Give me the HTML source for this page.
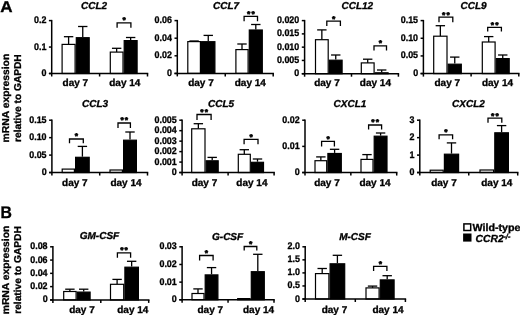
<!DOCTYPE html>
<html><head><meta charset="utf-8"><style>
html,body{margin:0;padding:0;background:#fff;}
svg{display:block;will-change:transform;}
text{font-family:"Liberation Sans", sans-serif;font-weight:bold;fill:#000;stroke:#000;stroke-width:0.32px;text-rendering:geometricPrecision;}
.tl{font-size:9.6px;text-anchor:end;}
.dl{font-size:10px;text-anchor:middle;}
.ti{font-size:10px;font-style:italic;text-anchor:middle;}
.st{font-size:8.5px;text-anchor:middle;letter-spacing:1.1px;stroke-width:0.55px;}
.pl{font-size:15.8px;text-rendering:geometricPrecision;}
.yl{font-size:10px;text-anchor:middle;}
.lg{font-size:10.3px;}
.sup{font-size:7.5px;}
</style></head><body>
<svg width="520" height="315" viewBox="0 0 520 315">
<rect width="520" height="315" fill="#fff"/>
<line x1="68.60" y1="44.40" x2="68.60" y2="36.70" stroke="#000" stroke-width="1.3"/>
<line x1="63.90" y1="36.70" x2="73.30" y2="36.70" stroke="#000" stroke-width="1.3"/>
<rect x="62.10" y="44.40" width="13.00" height="29.10" fill="#fff" stroke="#000" stroke-width="1.2"/>
<line x1="82.75" y1="37.10" x2="82.75" y2="26.50" stroke="#000" stroke-width="1.3"/>
<line x1="78.05" y1="26.50" x2="87.45" y2="26.50" stroke="#000" stroke-width="1.3"/>
<rect x="76.30" y="37.70" width="12.90" height="35.80" fill="#000" stroke="#000" stroke-width="1.2"/>
<line x1="116.65" y1="52.10" x2="116.65" y2="48.30" stroke="#000" stroke-width="1.3"/>
<line x1="111.95" y1="48.30" x2="121.35" y2="48.30" stroke="#000" stroke-width="1.3"/>
<rect x="110.30" y="52.10" width="12.70" height="21.40" fill="#fff" stroke="#000" stroke-width="1.2"/>
<line x1="130.65" y1="40.00" x2="130.65" y2="37.50" stroke="#000" stroke-width="1.3"/>
<line x1="125.95" y1="37.50" x2="135.35" y2="37.50" stroke="#000" stroke-width="1.3"/>
<rect x="124.20" y="40.60" width="12.90" height="32.90" fill="#000" stroke="#000" stroke-width="1.2"/>
<line x1="51.70" y1="19.90" x2="51.70" y2="76.50" stroke="#000" stroke-width="1.5"/>
<line x1="48.90" y1="73.50" x2="148.25" y2="73.50" stroke="#000" stroke-width="1.5"/>
<line x1="48.90" y1="20.60" x2="51.70" y2="20.60" stroke="#000" stroke-width="1.5"/>
<text transform="translate(46.40,23.10) scale(0.93,1)" class="tl">0.2</text>
<line x1="48.90" y1="47.05" x2="51.70" y2="47.05" stroke="#000" stroke-width="1.5"/>
<text transform="translate(46.40,49.55) scale(0.93,1)" class="tl">0.1</text>
<line x1="48.90" y1="73.50" x2="51.70" y2="73.50" stroke="#000" stroke-width="1.5"/>
<text transform="translate(46.40,76.00) scale(0.93,1)" class="tl">0</text>
<line x1="99.60" y1="73.50" x2="99.60" y2="76.50" stroke="#000" stroke-width="1.5"/>
<line x1="147.50" y1="73.50" x2="147.50" y2="76.50" stroke="#000" stroke-width="1.5"/>
<path d="M117.10 27.70V22.90H130.90V27.70" fill="none" stroke="#000" stroke-width="1.3"/>
<text x="124.60" y="23.30" class="st">*</text>
<text x="75.35" y="86.40" class="dl">day 7</text>
<text x="124.80" y="86.40" class="dl">day 14</text>
<text x="94.00" y="8.60" class="ti">CCL2</text>
<line x1="194.10" y1="41.60" x2="194.10" y2="41.00" stroke="#000" stroke-width="1.3"/>
<line x1="189.40" y1="41.00" x2="198.80" y2="41.00" stroke="#000" stroke-width="1.3"/>
<rect x="187.80" y="41.60" width="12.60" height="31.80" fill="#fff" stroke="#000" stroke-width="1.2"/>
<line x1="208.25" y1="41.10" x2="208.25" y2="35.40" stroke="#000" stroke-width="1.3"/>
<line x1="203.55" y1="35.40" x2="212.95" y2="35.40" stroke="#000" stroke-width="1.3"/>
<rect x="201.60" y="41.70" width="13.30" height="31.70" fill="#000" stroke="#000" stroke-width="1.2"/>
<line x1="242.00" y1="49.60" x2="242.00" y2="44.00" stroke="#000" stroke-width="1.3"/>
<line x1="237.30" y1="44.00" x2="246.70" y2="44.00" stroke="#000" stroke-width="1.3"/>
<rect x="235.90" y="49.60" width="12.20" height="23.80" fill="#fff" stroke="#000" stroke-width="1.2"/>
<line x1="255.80" y1="29.40" x2="255.80" y2="24.50" stroke="#000" stroke-width="1.3"/>
<line x1="251.10" y1="24.50" x2="260.50" y2="24.50" stroke="#000" stroke-width="1.3"/>
<rect x="249.30" y="30.00" width="13.00" height="43.40" fill="#000" stroke="#000" stroke-width="1.2"/>
<line x1="177.30" y1="19.90" x2="177.30" y2="76.40" stroke="#000" stroke-width="1.5"/>
<line x1="174.50" y1="73.40" x2="273.95" y2="73.40" stroke="#000" stroke-width="1.5"/>
<line x1="174.50" y1="20.60" x2="177.30" y2="20.60" stroke="#000" stroke-width="1.5"/>
<text transform="translate(172.00,23.10) scale(0.93,1)" class="tl">0.06</text>
<line x1="174.50" y1="38.20" x2="177.30" y2="38.20" stroke="#000" stroke-width="1.5"/>
<text transform="translate(172.00,40.70) scale(0.93,1)" class="tl">0.04</text>
<line x1="174.50" y1="55.80" x2="177.30" y2="55.80" stroke="#000" stroke-width="1.5"/>
<text transform="translate(172.00,58.30) scale(0.93,1)" class="tl">0.02</text>
<line x1="174.50" y1="73.40" x2="177.30" y2="73.40" stroke="#000" stroke-width="1.5"/>
<text transform="translate(172.00,75.90) scale(0.93,1)" class="tl">0</text>
<line x1="225.25" y1="73.40" x2="225.25" y2="76.40" stroke="#000" stroke-width="1.5"/>
<line x1="273.20" y1="73.40" x2="273.20" y2="76.40" stroke="#000" stroke-width="1.5"/>
<path d="M244.10 21.30V16.40H257.50V21.30" fill="none" stroke="#000" stroke-width="1.3"/>
<text x="251.40" y="16.80" class="st">**</text>
<text x="201.00" y="86.40" class="dl">day 7</text>
<text x="250.30" y="86.40" class="dl">day 14</text>
<text x="226.00" y="8.60" class="ti">CCL7</text>
<line x1="321.85" y1="39.70" x2="321.85" y2="29.90" stroke="#000" stroke-width="1.3"/>
<line x1="317.15" y1="29.90" x2="326.55" y2="29.90" stroke="#000" stroke-width="1.3"/>
<rect x="315.50" y="39.70" width="12.70" height="34.00" fill="#fff" stroke="#000" stroke-width="1.2"/>
<line x1="335.75" y1="59.60" x2="335.75" y2="55.00" stroke="#000" stroke-width="1.3"/>
<line x1="331.05" y1="55.00" x2="340.45" y2="55.00" stroke="#000" stroke-width="1.3"/>
<rect x="329.40" y="60.20" width="12.70" height="13.50" fill="#000" stroke="#000" stroke-width="1.2"/>
<line x1="367.70" y1="62.90" x2="367.70" y2="59.20" stroke="#000" stroke-width="1.3"/>
<line x1="363.00" y1="59.20" x2="372.40" y2="59.20" stroke="#000" stroke-width="1.3"/>
<rect x="361.30" y="62.90" width="12.80" height="10.80" fill="#fff" stroke="#000" stroke-width="1.2"/>
<line x1="381.70" y1="72.20" x2="381.70" y2="70.00" stroke="#000" stroke-width="1.3"/>
<line x1="377.00" y1="70.00" x2="386.40" y2="70.00" stroke="#000" stroke-width="1.3"/>
<rect x="375.30" y="72.80" width="12.80" height="0.90" fill="#000" stroke="#000" stroke-width="1.2"/>
<line x1="304.60" y1="19.90" x2="304.60" y2="76.70" stroke="#000" stroke-width="1.5"/>
<line x1="301.80" y1="73.70" x2="399.15" y2="73.70" stroke="#000" stroke-width="1.5"/>
<line x1="301.80" y1="20.60" x2="304.60" y2="20.60" stroke="#000" stroke-width="1.5"/>
<text transform="translate(299.30,23.10) scale(0.93,1)" class="tl">0.020</text>
<line x1="301.80" y1="33.88" x2="304.60" y2="33.88" stroke="#000" stroke-width="1.5"/>
<text transform="translate(299.30,36.38) scale(0.93,1)" class="tl">0.015</text>
<line x1="301.80" y1="47.15" x2="304.60" y2="47.15" stroke="#000" stroke-width="1.5"/>
<text transform="translate(299.30,49.65) scale(0.93,1)" class="tl">0.010</text>
<line x1="301.80" y1="60.43" x2="304.60" y2="60.43" stroke="#000" stroke-width="1.5"/>
<text transform="translate(299.30,62.93) scale(0.93,1)" class="tl">0.005</text>
<line x1="301.80" y1="73.70" x2="304.60" y2="73.70" stroke="#000" stroke-width="1.5"/>
<text transform="translate(299.30,76.20) scale(0.93,1)" class="tl">0</text>
<line x1="351.50" y1="73.70" x2="351.50" y2="76.70" stroke="#000" stroke-width="1.5"/>
<line x1="398.40" y1="73.70" x2="398.40" y2="76.70" stroke="#000" stroke-width="1.5"/>
<path d="M326.80 25.90V21.10H340.40V25.90" fill="none" stroke="#000" stroke-width="1.3"/>
<text x="334.20" y="21.50" class="st">*</text>
<path d="M374.00 50.60V45.90H386.50V50.60" fill="none" stroke="#000" stroke-width="1.3"/>
<text x="380.85" y="46.30" class="st">*</text>
<text x="327.00" y="86.40" class="dl">day 7</text>
<text x="375.40" y="86.40" class="dl">day 14</text>
<text x="357.30" y="8.60" class="ti">CCL12</text>
<line x1="440.35" y1="36.20" x2="440.35" y2="25.70" stroke="#000" stroke-width="1.3"/>
<line x1="435.65" y1="25.70" x2="445.05" y2="25.70" stroke="#000" stroke-width="1.3"/>
<rect x="433.70" y="36.20" width="13.30" height="37.40" fill="#fff" stroke="#000" stroke-width="1.2"/>
<line x1="454.75" y1="63.60" x2="454.75" y2="57.10" stroke="#000" stroke-width="1.3"/>
<line x1="450.05" y1="57.10" x2="459.45" y2="57.10" stroke="#000" stroke-width="1.3"/>
<rect x="448.20" y="64.20" width="13.10" height="9.40" fill="#000" stroke="#000" stroke-width="1.2"/>
<line x1="488.70" y1="42.00" x2="488.70" y2="36.60" stroke="#000" stroke-width="1.3"/>
<line x1="484.00" y1="36.60" x2="493.40" y2="36.60" stroke="#000" stroke-width="1.3"/>
<rect x="482.30" y="42.00" width="12.80" height="31.60" fill="#fff" stroke="#000" stroke-width="1.2"/>
<line x1="502.75" y1="58.00" x2="502.75" y2="55.00" stroke="#000" stroke-width="1.3"/>
<line x1="498.05" y1="55.00" x2="507.45" y2="55.00" stroke="#000" stroke-width="1.3"/>
<rect x="496.30" y="58.60" width="12.90" height="15.00" fill="#000" stroke="#000" stroke-width="1.2"/>
<line x1="423.40" y1="19.90" x2="423.40" y2="76.60" stroke="#000" stroke-width="1.5"/>
<line x1="420.60" y1="73.60" x2="519.55" y2="73.60" stroke="#000" stroke-width="1.5"/>
<line x1="420.60" y1="20.60" x2="423.40" y2="20.60" stroke="#000" stroke-width="1.5"/>
<text transform="translate(418.10,23.10) scale(0.93,1)" class="tl">0.15</text>
<line x1="420.60" y1="38.27" x2="423.40" y2="38.27" stroke="#000" stroke-width="1.5"/>
<text transform="translate(418.10,40.77) scale(0.93,1)" class="tl">0.10</text>
<line x1="420.60" y1="55.93" x2="423.40" y2="55.93" stroke="#000" stroke-width="1.5"/>
<text transform="translate(418.10,58.43) scale(0.93,1)" class="tl">0.05</text>
<line x1="420.60" y1="73.60" x2="423.40" y2="73.60" stroke="#000" stroke-width="1.5"/>
<text transform="translate(418.10,76.10) scale(0.93,1)" class="tl">0</text>
<line x1="471.10" y1="73.60" x2="471.10" y2="76.60" stroke="#000" stroke-width="1.5"/>
<line x1="518.80" y1="73.60" x2="518.80" y2="76.60" stroke="#000" stroke-width="1.5"/>
<path d="M439.00 22.30V17.10H452.80V22.30" fill="none" stroke="#000" stroke-width="1.3"/>
<text x="446.50" y="17.50" class="st">**</text>
<path d="M487.70 31.60V27.30H501.40V31.60" fill="none" stroke="#000" stroke-width="1.3"/>
<text x="495.15" y="27.70" class="st">**</text>
<text x="447.30" y="86.40" class="dl">day 7</text>
<text x="497.50" y="86.40" class="dl">day 14</text>
<text x="473.50" y="8.60" class="ti">CCL9</text>
<rect x="62.20" y="169.10" width="12.20" height="3.45" fill="#fff" stroke="#000" stroke-width="1.2"/>
<line x1="82.40" y1="156.70" x2="82.40" y2="146.40" stroke="#000" stroke-width="1.3"/>
<line x1="77.70" y1="146.40" x2="87.10" y2="146.40" stroke="#000" stroke-width="1.3"/>
<rect x="75.60" y="157.30" width="13.60" height="15.25" fill="#000" stroke="#000" stroke-width="1.2"/>
<rect x="110.00" y="170.00" width="12.40" height="2.55" fill="#fff" stroke="#000" stroke-width="1.2"/>
<line x1="130.00" y1="139.60" x2="130.00" y2="132.00" stroke="#000" stroke-width="1.3"/>
<line x1="125.30" y1="132.00" x2="134.70" y2="132.00" stroke="#000" stroke-width="1.3"/>
<rect x="123.60" y="140.20" width="12.80" height="32.35" fill="#000" stroke="#000" stroke-width="1.2"/>
<line x1="51.90" y1="119.50" x2="51.90" y2="175.55" stroke="#000" stroke-width="1.5"/>
<line x1="49.10" y1="172.55" x2="148.25" y2="172.55" stroke="#000" stroke-width="1.5"/>
<line x1="49.10" y1="120.20" x2="51.90" y2="120.20" stroke="#000" stroke-width="1.5"/>
<text transform="translate(46.60,122.70) scale(0.93,1)" class="tl">0.15</text>
<line x1="49.10" y1="137.65" x2="51.90" y2="137.65" stroke="#000" stroke-width="1.5"/>
<text transform="translate(46.60,140.15) scale(0.93,1)" class="tl">0.10</text>
<line x1="49.10" y1="155.10" x2="51.90" y2="155.10" stroke="#000" stroke-width="1.5"/>
<text transform="translate(46.60,157.60) scale(0.93,1)" class="tl">0.05</text>
<line x1="49.10" y1="172.55" x2="51.90" y2="172.55" stroke="#000" stroke-width="1.5"/>
<text transform="translate(46.60,175.05) scale(0.93,1)" class="tl">0</text>
<line x1="99.70" y1="172.55" x2="99.70" y2="175.55" stroke="#000" stroke-width="1.5"/>
<line x1="147.50" y1="172.55" x2="147.50" y2="175.55" stroke="#000" stroke-width="1.5"/>
<path d="M69.50 143.30V139.00H83.30V143.30" fill="none" stroke="#000" stroke-width="1.3"/>
<text x="77.00" y="139.40" class="st">*</text>
<path d="M118.00 128.00V123.00H130.40V128.00" fill="none" stroke="#000" stroke-width="1.3"/>
<text x="124.80" y="123.40" class="st">**</text>
<text x="74.90" y="186.00" class="dl">day 7</text>
<text x="126.00" y="186.00" class="dl">day 14</text>
<text x="95.00" y="106.80" class="ti">CCL3</text>
<line x1="198.35" y1="128.80" x2="198.35" y2="123.70" stroke="#000" stroke-width="1.3"/>
<line x1="193.65" y1="123.70" x2="203.05" y2="123.70" stroke="#000" stroke-width="1.3"/>
<rect x="191.70" y="128.80" width="13.30" height="43.75" fill="#fff" stroke="#000" stroke-width="1.2"/>
<line x1="212.20" y1="160.20" x2="212.20" y2="157.40" stroke="#000" stroke-width="1.3"/>
<line x1="207.50" y1="157.40" x2="216.90" y2="157.40" stroke="#000" stroke-width="1.3"/>
<rect x="206.20" y="160.80" width="12.00" height="11.75" fill="#000" stroke="#000" stroke-width="1.2"/>
<line x1="244.30" y1="154.30" x2="244.30" y2="149.70" stroke="#000" stroke-width="1.3"/>
<line x1="239.60" y1="149.70" x2="249.00" y2="149.70" stroke="#000" stroke-width="1.3"/>
<rect x="238.30" y="154.30" width="12.00" height="18.25" fill="#fff" stroke="#000" stroke-width="1.2"/>
<line x1="257.50" y1="161.70" x2="257.50" y2="159.00" stroke="#000" stroke-width="1.3"/>
<line x1="252.80" y1="159.00" x2="262.20" y2="159.00" stroke="#000" stroke-width="1.3"/>
<rect x="251.50" y="162.30" width="12.00" height="10.25" fill="#000" stroke="#000" stroke-width="1.2"/>
<line x1="182.10" y1="119.50" x2="182.10" y2="175.55" stroke="#000" stroke-width="1.5"/>
<line x1="179.30" y1="172.55" x2="274.85" y2="172.55" stroke="#000" stroke-width="1.5"/>
<line x1="179.30" y1="120.20" x2="182.10" y2="120.20" stroke="#000" stroke-width="1.5"/>
<text transform="translate(176.80,122.70) scale(0.93,1)" class="tl">0.005</text>
<line x1="179.30" y1="130.67" x2="182.10" y2="130.67" stroke="#000" stroke-width="1.5"/>
<text transform="translate(176.80,133.17) scale(0.93,1)" class="tl">0.004</text>
<line x1="179.30" y1="141.14" x2="182.10" y2="141.14" stroke="#000" stroke-width="1.5"/>
<text transform="translate(176.80,143.64) scale(0.93,1)" class="tl">0.003</text>
<line x1="179.30" y1="151.61" x2="182.10" y2="151.61" stroke="#000" stroke-width="1.5"/>
<text transform="translate(176.80,154.11) scale(0.93,1)" class="tl">0.002</text>
<line x1="179.30" y1="162.08" x2="182.10" y2="162.08" stroke="#000" stroke-width="1.5"/>
<text transform="translate(176.80,164.58) scale(0.93,1)" class="tl">0.001</text>
<line x1="179.30" y1="172.55" x2="182.10" y2="172.55" stroke="#000" stroke-width="1.5"/>
<text transform="translate(176.80,175.05) scale(0.93,1)" class="tl">0</text>
<line x1="228.10" y1="172.55" x2="228.10" y2="175.55" stroke="#000" stroke-width="1.5"/>
<line x1="274.10" y1="172.55" x2="274.10" y2="175.55" stroke="#000" stroke-width="1.5"/>
<path d="M197.00 119.90V114.50H211.10V119.90" fill="none" stroke="#000" stroke-width="1.3"/>
<text x="204.65" y="114.90" class="st">**</text>
<path d="M244.10 144.30V139.30H258.00V144.30" fill="none" stroke="#000" stroke-width="1.3"/>
<text x="251.65" y="139.70" class="st">*</text>
<text x="204.50" y="186.00" class="dl">day 7</text>
<text x="251.90" y="186.00" class="dl">day 14</text>
<text x="221.00" y="106.80" class="ti">CCL5</text>
<line x1="320.85" y1="160.70" x2="320.85" y2="156.90" stroke="#000" stroke-width="1.3"/>
<line x1="316.15" y1="156.90" x2="325.55" y2="156.90" stroke="#000" stroke-width="1.3"/>
<rect x="315.00" y="160.70" width="11.70" height="11.85" fill="#fff" stroke="#000" stroke-width="1.2"/>
<line x1="334.60" y1="152.90" x2="334.60" y2="149.30" stroke="#000" stroke-width="1.3"/>
<line x1="329.90" y1="149.30" x2="339.30" y2="149.30" stroke="#000" stroke-width="1.3"/>
<rect x="327.90" y="153.50" width="13.40" height="19.05" fill="#000" stroke="#000" stroke-width="1.2"/>
<line x1="367.00" y1="159.40" x2="367.00" y2="154.60" stroke="#000" stroke-width="1.3"/>
<line x1="362.30" y1="154.60" x2="371.70" y2="154.60" stroke="#000" stroke-width="1.3"/>
<rect x="361.00" y="159.40" width="12.00" height="13.15" fill="#fff" stroke="#000" stroke-width="1.2"/>
<line x1="380.60" y1="135.60" x2="380.60" y2="133.00" stroke="#000" stroke-width="1.3"/>
<line x1="375.90" y1="133.00" x2="385.30" y2="133.00" stroke="#000" stroke-width="1.3"/>
<rect x="374.20" y="136.20" width="12.80" height="36.35" fill="#000" stroke="#000" stroke-width="1.2"/>
<line x1="305.00" y1="119.50" x2="305.00" y2="175.55" stroke="#000" stroke-width="1.5"/>
<line x1="302.20" y1="172.55" x2="397.45" y2="172.55" stroke="#000" stroke-width="1.5"/>
<line x1="302.20" y1="120.20" x2="305.00" y2="120.20" stroke="#000" stroke-width="1.5"/>
<text transform="translate(299.70,122.70) scale(0.93,1)" class="tl">0.02</text>
<line x1="302.20" y1="146.38" x2="305.00" y2="146.38" stroke="#000" stroke-width="1.5"/>
<text transform="translate(299.70,148.88) scale(0.93,1)" class="tl">0.01</text>
<line x1="302.20" y1="172.55" x2="305.00" y2="172.55" stroke="#000" stroke-width="1.5"/>
<text transform="translate(299.70,175.05) scale(0.93,1)" class="tl">0</text>
<line x1="350.85" y1="172.55" x2="350.85" y2="175.55" stroke="#000" stroke-width="1.5"/>
<line x1="396.70" y1="172.55" x2="396.70" y2="175.55" stroke="#000" stroke-width="1.5"/>
<path d="M321.60 146.40V141.40H334.40V146.40" fill="none" stroke="#000" stroke-width="1.3"/>
<text x="328.60" y="141.80" class="st">*</text>
<path d="M368.60 129.60V125.00H381.60V129.60" fill="none" stroke="#000" stroke-width="1.3"/>
<text x="375.70" y="125.40" class="st">**</text>
<text x="327.00" y="186.00" class="dl">day 7</text>
<text x="375.00" y="186.00" class="dl">day 14</text>
<text x="350.00" y="106.80" class="ti">CXCL1</text>
<rect x="430.20" y="170.20" width="13.00" height="2.35" fill="#fff" stroke="#000" stroke-width="1.2"/>
<line x1="451.50" y1="153.60" x2="451.50" y2="142.90" stroke="#000" stroke-width="1.3"/>
<line x1="446.80" y1="142.90" x2="456.20" y2="142.90" stroke="#000" stroke-width="1.3"/>
<rect x="444.40" y="154.20" width="14.20" height="18.35" fill="#000" stroke="#000" stroke-width="1.2"/>
<rect x="480.00" y="170.00" width="13.60" height="2.55" fill="#fff" stroke="#000" stroke-width="1.2"/>
<line x1="501.60" y1="132.20" x2="501.60" y2="125.60" stroke="#000" stroke-width="1.3"/>
<line x1="496.90" y1="125.60" x2="506.30" y2="125.60" stroke="#000" stroke-width="1.3"/>
<rect x="494.80" y="132.80" width="13.60" height="39.75" fill="#000" stroke="#000" stroke-width="1.2"/>
<line x1="419.80" y1="119.50" x2="419.80" y2="175.55" stroke="#000" stroke-width="1.5"/>
<line x1="417.00" y1="172.55" x2="518.45" y2="172.55" stroke="#000" stroke-width="1.5"/>
<line x1="417.00" y1="120.20" x2="419.80" y2="120.20" stroke="#000" stroke-width="1.5"/>
<text transform="translate(414.50,122.70) scale(0.93,1)" class="tl">3</text>
<line x1="417.00" y1="137.65" x2="419.80" y2="137.65" stroke="#000" stroke-width="1.5"/>
<text transform="translate(414.50,140.15) scale(0.93,1)" class="tl">2</text>
<line x1="417.00" y1="155.10" x2="419.80" y2="155.10" stroke="#000" stroke-width="1.5"/>
<text transform="translate(414.50,157.60) scale(0.93,1)" class="tl">1</text>
<line x1="417.00" y1="172.55" x2="419.80" y2="172.55" stroke="#000" stroke-width="1.5"/>
<text transform="translate(414.50,175.05) scale(0.93,1)" class="tl">0</text>
<line x1="468.75" y1="172.55" x2="468.75" y2="175.55" stroke="#000" stroke-width="1.5"/>
<line x1="517.70" y1="172.55" x2="517.70" y2="175.55" stroke="#000" stroke-width="1.5"/>
<path d="M439.10 139.30V134.80H452.60V139.30" fill="none" stroke="#000" stroke-width="1.3"/>
<text x="446.45" y="135.20" class="st">*</text>
<path d="M488.00 122.80V118.20H501.80V122.80" fill="none" stroke="#000" stroke-width="1.3"/>
<text x="495.50" y="118.60" class="st">**</text>
<text x="444.00" y="186.00" class="dl">day 7</text>
<text x="496.80" y="186.00" class="dl">day 14</text>
<text x="468.50" y="106.80" class="ti">CXCL2</text>
<line x1="69.90" y1="291.50" x2="69.90" y2="289.20" stroke="#000" stroke-width="1.3"/>
<line x1="65.20" y1="289.20" x2="74.60" y2="289.20" stroke="#000" stroke-width="1.3"/>
<rect x="63.70" y="291.50" width="12.40" height="8.40" fill="#fff" stroke="#000" stroke-width="1.2"/>
<line x1="83.70" y1="291.50" x2="83.70" y2="289.20" stroke="#000" stroke-width="1.3"/>
<line x1="79.00" y1="289.20" x2="88.40" y2="289.20" stroke="#000" stroke-width="1.3"/>
<rect x="77.30" y="292.10" width="12.80" height="7.80" fill="#000" stroke="#000" stroke-width="1.2"/>
<line x1="117.10" y1="284.30" x2="117.10" y2="279.40" stroke="#000" stroke-width="1.3"/>
<line x1="112.40" y1="279.40" x2="121.80" y2="279.40" stroke="#000" stroke-width="1.3"/>
<rect x="110.50" y="284.30" width="13.20" height="15.60" fill="#fff" stroke="#000" stroke-width="1.2"/>
<line x1="131.65" y1="266.60" x2="131.65" y2="261.30" stroke="#000" stroke-width="1.3"/>
<line x1="126.95" y1="261.30" x2="136.35" y2="261.30" stroke="#000" stroke-width="1.3"/>
<rect x="124.90" y="267.20" width="13.50" height="32.70" fill="#000" stroke="#000" stroke-width="1.2"/>
<line x1="52.90" y1="246.10" x2="52.90" y2="302.90" stroke="#000" stroke-width="1.5"/>
<line x1="50.10" y1="299.90" x2="149.45" y2="299.90" stroke="#000" stroke-width="1.5"/>
<line x1="50.10" y1="246.80" x2="52.90" y2="246.80" stroke="#000" stroke-width="1.5"/>
<text transform="translate(47.60,249.30) scale(0.93,1)" class="tl">0.08</text>
<line x1="50.10" y1="260.07" x2="52.90" y2="260.07" stroke="#000" stroke-width="1.5"/>
<text transform="translate(47.60,262.57) scale(0.93,1)" class="tl">0.06</text>
<line x1="50.10" y1="273.35" x2="52.90" y2="273.35" stroke="#000" stroke-width="1.5"/>
<text transform="translate(47.60,275.85) scale(0.93,1)" class="tl">0.04</text>
<line x1="50.10" y1="286.62" x2="52.90" y2="286.62" stroke="#000" stroke-width="1.5"/>
<text transform="translate(47.60,289.12) scale(0.93,1)" class="tl">0.02</text>
<line x1="50.10" y1="299.90" x2="52.90" y2="299.90" stroke="#000" stroke-width="1.5"/>
<text transform="translate(47.60,302.40) scale(0.93,1)" class="tl">0</text>
<line x1="100.80" y1="299.90" x2="100.80" y2="302.90" stroke="#000" stroke-width="1.5"/>
<line x1="148.70" y1="299.90" x2="148.70" y2="302.90" stroke="#000" stroke-width="1.5"/>
<path d="M117.40 257.70V252.80H130.60V257.70" fill="none" stroke="#000" stroke-width="1.3"/>
<text x="124.60" y="253.20" class="st">**</text>
<text x="82.00" y="312.50" class="dl">day 7</text>
<text x="132.80" y="312.50" class="dl">day 14</text>
<text x="99.50" y="239.30" class="ti">GM-CSF</text>
<line x1="198.00" y1="293.50" x2="198.00" y2="288.90" stroke="#000" stroke-width="1.3"/>
<line x1="193.30" y1="288.90" x2="202.70" y2="288.90" stroke="#000" stroke-width="1.3"/>
<rect x="192.00" y="293.50" width="12.00" height="6.30" fill="#fff" stroke="#000" stroke-width="1.2"/>
<line x1="211.55" y1="274.30" x2="211.55" y2="267.60" stroke="#000" stroke-width="1.3"/>
<line x1="206.85" y1="267.60" x2="216.25" y2="267.60" stroke="#000" stroke-width="1.3"/>
<rect x="205.20" y="274.90" width="12.70" height="24.90" fill="#000" stroke="#000" stroke-width="1.2"/>
<rect x="237.70" y="298.60" width="12.40" height="1.20" fill="#fff" stroke="#000" stroke-width="1.2"/>
<line x1="257.80" y1="271.10" x2="257.80" y2="254.30" stroke="#000" stroke-width="1.3"/>
<line x1="253.10" y1="254.30" x2="262.50" y2="254.30" stroke="#000" stroke-width="1.3"/>
<rect x="251.30" y="271.70" width="13.00" height="28.10" fill="#000" stroke="#000" stroke-width="1.2"/>
<line x1="182.10" y1="246.10" x2="182.10" y2="302.80" stroke="#000" stroke-width="1.5"/>
<line x1="179.30" y1="299.80" x2="274.75" y2="299.80" stroke="#000" stroke-width="1.5"/>
<line x1="179.30" y1="246.80" x2="182.10" y2="246.80" stroke="#000" stroke-width="1.5"/>
<text transform="translate(176.80,249.30) scale(0.93,1)" class="tl">0.03</text>
<line x1="179.30" y1="264.47" x2="182.10" y2="264.47" stroke="#000" stroke-width="1.5"/>
<text transform="translate(176.80,266.97) scale(0.93,1)" class="tl">0.02</text>
<line x1="179.30" y1="282.13" x2="182.10" y2="282.13" stroke="#000" stroke-width="1.5"/>
<text transform="translate(176.80,284.63) scale(0.93,1)" class="tl">0.01</text>
<line x1="179.30" y1="299.80" x2="182.10" y2="299.80" stroke="#000" stroke-width="1.5"/>
<text transform="translate(176.80,302.30) scale(0.93,1)" class="tl">0</text>
<line x1="228.05" y1="299.80" x2="228.05" y2="302.80" stroke="#000" stroke-width="1.5"/>
<line x1="274.00" y1="299.80" x2="274.00" y2="302.80" stroke="#000" stroke-width="1.5"/>
<path d="M199.60 260.40V255.50H213.10V260.40" fill="none" stroke="#000" stroke-width="1.3"/>
<text x="206.95" y="255.90" class="st">*</text>
<path d="M244.20 250.60V246.50H256.80V250.60" fill="none" stroke="#000" stroke-width="1.3"/>
<text x="251.10" y="246.90" class="st">*</text>
<text x="210.30" y="312.50" class="dl">day 7</text>
<text x="258.60" y="312.50" class="dl">day 14</text>
<text x="227.60" y="239.50" class="ti">G-CSF</text>
<line x1="322.20" y1="273.60" x2="322.20" y2="268.50" stroke="#000" stroke-width="1.3"/>
<line x1="317.50" y1="268.50" x2="326.90" y2="268.50" stroke="#000" stroke-width="1.3"/>
<rect x="315.50" y="273.60" width="13.40" height="25.40" fill="#fff" stroke="#000" stroke-width="1.2"/>
<line x1="337.40" y1="263.20" x2="337.40" y2="255.30" stroke="#000" stroke-width="1.3"/>
<line x1="332.70" y1="255.30" x2="342.10" y2="255.30" stroke="#000" stroke-width="1.3"/>
<rect x="330.10" y="263.80" width="14.60" height="35.20" fill="#000" stroke="#000" stroke-width="1.2"/>
<line x1="372.55" y1="287.90" x2="372.55" y2="286.10" stroke="#000" stroke-width="1.3"/>
<line x1="367.85" y1="286.10" x2="377.25" y2="286.10" stroke="#000" stroke-width="1.3"/>
<rect x="366.00" y="287.90" width="13.10" height="11.10" fill="#fff" stroke="#000" stroke-width="1.2"/>
<line x1="387.20" y1="279.30" x2="387.20" y2="275.70" stroke="#000" stroke-width="1.3"/>
<line x1="382.50" y1="275.70" x2="391.90" y2="275.70" stroke="#000" stroke-width="1.3"/>
<rect x="380.30" y="279.90" width="13.80" height="19.10" fill="#000" stroke="#000" stroke-width="1.2"/>
<line x1="305.20" y1="246.10" x2="305.20" y2="302.00" stroke="#000" stroke-width="1.5"/>
<line x1="302.40" y1="299.00" x2="406.15" y2="299.00" stroke="#000" stroke-width="1.5"/>
<line x1="302.40" y1="246.80" x2="305.20" y2="246.80" stroke="#000" stroke-width="1.5"/>
<text transform="translate(299.90,249.30) scale(0.93,1)" class="tl">2.0</text>
<line x1="302.40" y1="259.85" x2="305.20" y2="259.85" stroke="#000" stroke-width="1.5"/>
<text transform="translate(299.90,262.35) scale(0.93,1)" class="tl">1.5</text>
<line x1="302.40" y1="272.90" x2="305.20" y2="272.90" stroke="#000" stroke-width="1.5"/>
<text transform="translate(299.90,275.40) scale(0.93,1)" class="tl">1.0</text>
<line x1="302.40" y1="285.95" x2="305.20" y2="285.95" stroke="#000" stroke-width="1.5"/>
<text transform="translate(299.90,288.45) scale(0.93,1)" class="tl">0.5</text>
<line x1="302.40" y1="299.00" x2="305.20" y2="299.00" stroke="#000" stroke-width="1.5"/>
<text transform="translate(299.90,301.50) scale(0.93,1)" class="tl">0</text>
<line x1="355.30" y1="299.00" x2="355.30" y2="302.00" stroke="#000" stroke-width="1.5"/>
<line x1="405.40" y1="299.00" x2="405.40" y2="302.00" stroke="#000" stroke-width="1.5"/>
<path d="M373.60 271.00V266.40H386.90V271.00" fill="none" stroke="#000" stroke-width="1.3"/>
<text x="380.85" y="266.80" class="st">*</text>
<text x="334.50" y="312.50" class="dl">day 7</text>
<text x="388.00" y="312.50" class="dl">day 14</text>
<text x="355.00" y="239.50" class="ti">M-CSF</text>

<text transform="translate(0.3,11.9) scale(1.08,1)" class="pl">A</text>
<text transform="translate(0.6,217.5) scale(1.0,1.07)" class="pl">B</text>
<text transform="translate(9.0,98.1) rotate(-90)" class="yl" textLength="88.6" lengthAdjust="spacingAndGlyphs">mRNA expression</text>
<text transform="translate(20.5,98.1) rotate(-90)" class="yl" textLength="87.6" lengthAdjust="spacingAndGlyphs">relative to GAPDH</text>
<text transform="translate(9.0,270) rotate(-90)" class="yl" textLength="88.6" lengthAdjust="spacingAndGlyphs">mRNA expression</text>
<text transform="translate(20.5,270) rotate(-90)" class="yl" textLength="87.6" lengthAdjust="spacingAndGlyphs">relative to GAPDH</text>
<rect x="463.9" y="223.9" width="6.8" height="6.6" fill="#fff" stroke="#000" stroke-width="1.5"/>
<rect x="463.1" y="233.5" width="8.4" height="8.1" fill="#000"/>
<text x="472.4" y="230.8" class="lg" textLength="48.2" lengthAdjust="spacingAndGlyphs">Wild-type</text>
<text x="475.6" y="241.9" class="lg" font-style="italic">CCR2</text>
<text x="503.4" y="239.2" class="sup" font-style="italic" textLength="7" lengthAdjust="spacingAndGlyphs">-/-</text>

</svg>
</body></html>
